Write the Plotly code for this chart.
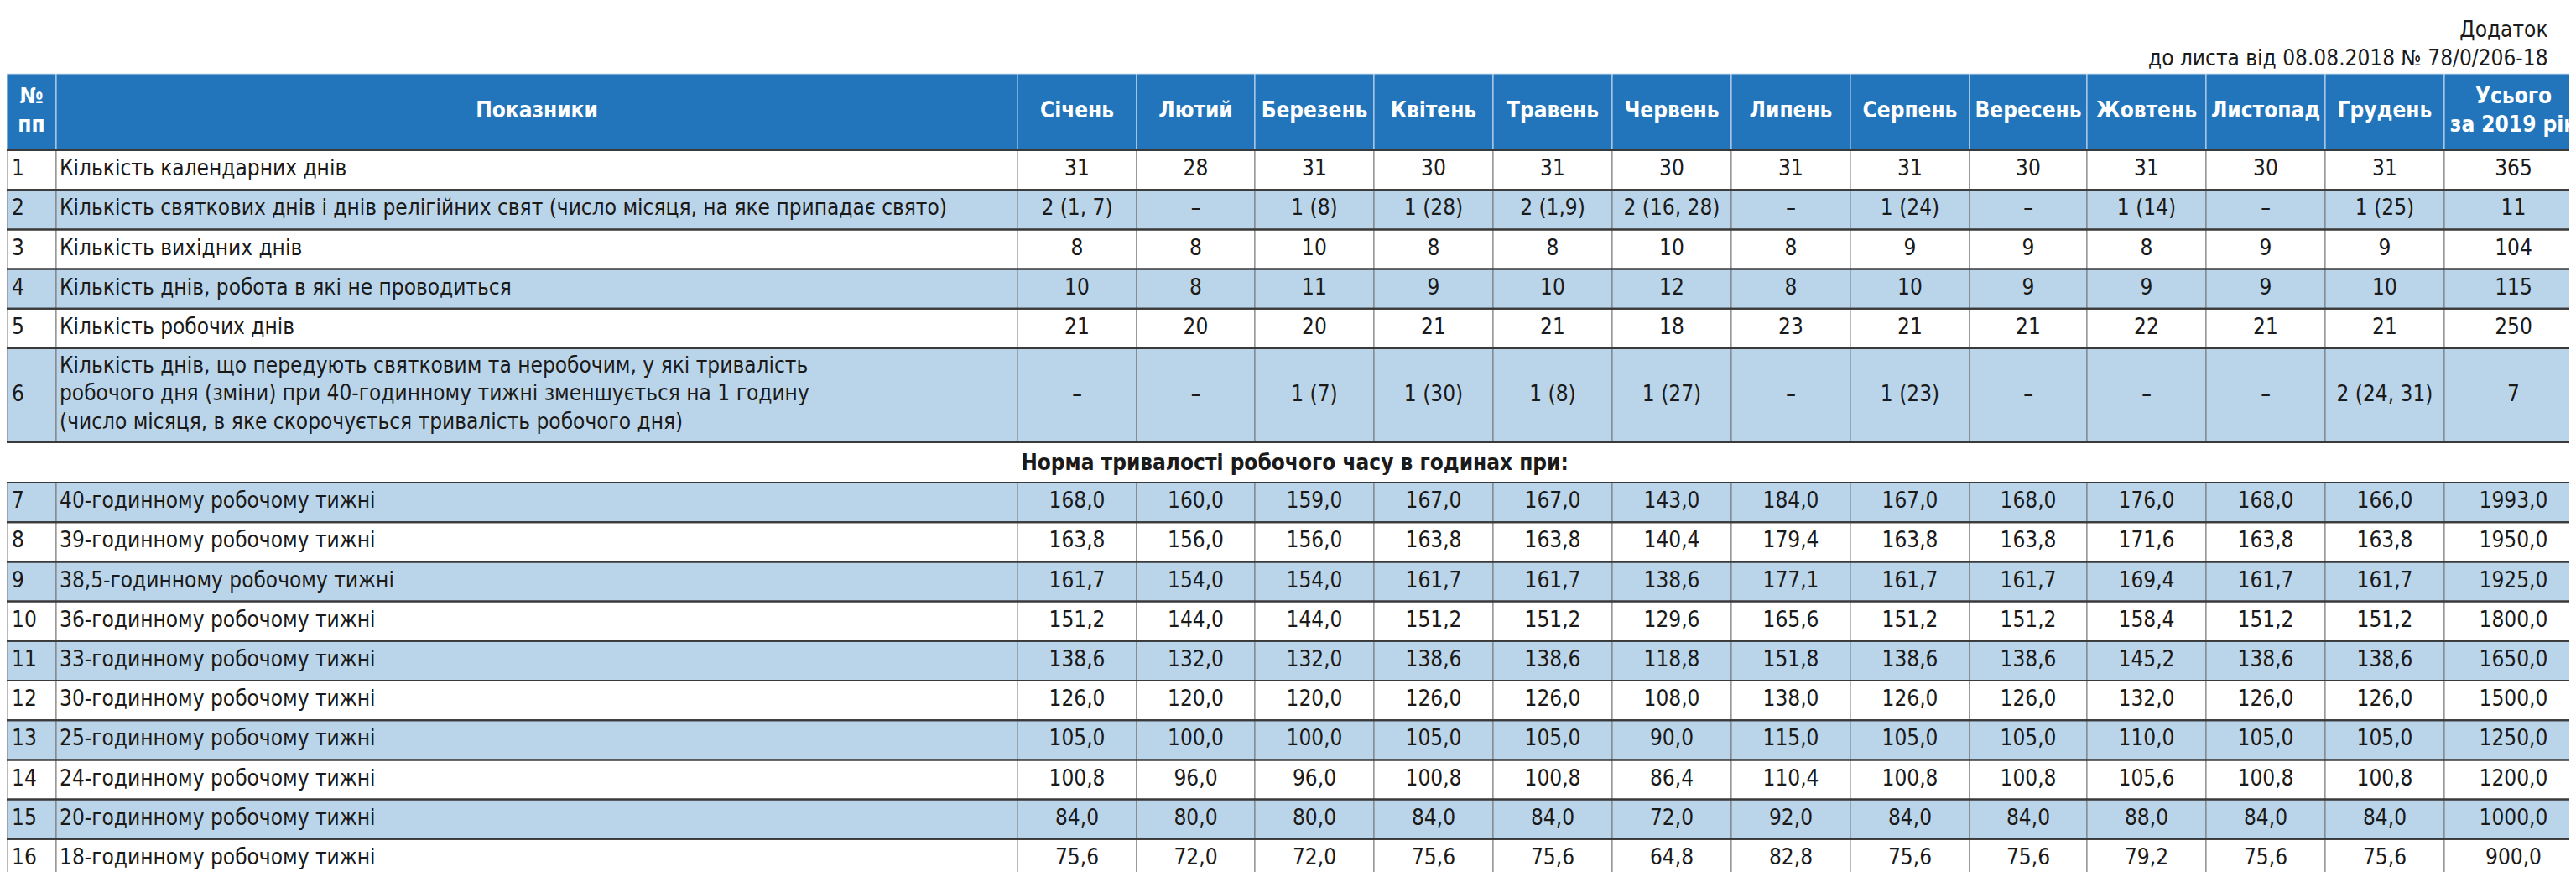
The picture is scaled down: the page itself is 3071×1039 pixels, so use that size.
import plotly.graph_objects as go

W, H = 3071, 1039
FONT = "Liberation Sans Narrow, DejaVu Sans Condensed, sans-serif"

months = ["Січень", "Лютий", "Березень", "Квітень", "Травень", "Червень", "Липень",
          "Серпень", "Вересень", "Жовтень", "Листопад", "Грудень", "Усього<br>за 2019 рік"]

top_labels = [
    "Кількість календарних днів",
    "Кількість святкових днів і днів релігійних свят (число місяця, на яке припадає свято)",
    "Кількість вихідних днів",
    "Кількість днів, робота в які не проводиться",
    "Кількість робочих днів",
    "Кількість днів, що передують святковим та неробочим, у які тривалість<br>"
    "робочого дня (зміни) при 40-годинному тижні зменшується на 1 годину<br>"
    "(число місяця, в яке скорочується тривалість робочого дня)",
]
top_values = [
    ["31", "28", "31", "30", "31", "30", "31", "31", "30", "31", "30", "31", "365"],
    ["2 (1, 7)", "–", "1 (8)", "1 (28)", "2 (1,9)", "2 (16, 28)", "–", "1 (24)", "–", "1 (14)", "–", "1 (25)", "11"],
    ["8", "8", "10", "8", "8", "10", "8", "9", "9", "8", "9", "9", "104"],
    ["10", "8", "11", "9", "10", "12", "8", "10", "9", "9", "9", "10", "115"],
    ["21", "20", "20", "21", "21", "18", "23", "21", "21", "22", "21", "21", "250"],
    ["–", "–", "1 (7)", "1 (30)", "1 (8)", "1 (27)", "–", "1 (23)", "–", "–", "–", "2 (24, 31)", "7"],
]

section_title = "Норма тривалості робочого часу в годинах при:"

hour_labels = ["40-годинному робочому тижні", "39-годинному робочому тижні",
               "38,5-годинному робочому тижні", "36-годинному робочому тижні",
               "33-годинному робочому тижні", "30-годинному робочому тижні",
               "25-годинному робочому тижні", "24-годинному робочому тижні",
               "20-годинному робочому тижні", "18-годинному робочому тижні"]
hour_values = [
    ["168,0", "160,0", "159,0", "167,0", "167,0", "143,0", "184,0", "167,0", "168,0", "176,0", "168,0", "166,0", "1993,0"],
    ["163,8", "156,0", "156,0", "163,8", "163,8", "140,4", "179,4", "163,8", "163,8", "171,6", "163,8", "163,8", "1950,0"],
    ["161,7", "154,0", "154,0", "161,7", "161,7", "138,6", "177,1", "161,7", "161,7", "169,4", "161,7", "161,7", "1925,0"],
    ["151,2", "144,0", "144,0", "151,2", "151,2", "129,6", "165,6", "151,2", "151,2", "158,4", "151,2", "151,2", "1800,0"],
    ["138,6", "132,0", "132,0", "138,6", "138,6", "118,8", "151,8", "138,6", "138,6", "145,2", "138,6", "138,6", "1650,0"],
    ["126,0", "120,0", "120,0", "126,0", "126,0", "108,0", "138,0", "126,0", "126,0", "132,0", "126,0", "126,0", "1500,0"],
    ["105,0", "100,0", "100,0", "105,0", "105,0", "90,0", "115,0", "105,0", "105,0", "110,0", "105,0", "105,0", "1250,0"],
    ["100,8", "96,0", "96,0", "100,8", "100,8", "86,4", "110,4", "100,8", "100,8", "105,6", "100,8", "100,8", "1200,0"],
    ["84,0", "80,0", "80,0", "84,0", "84,0", "72,0", "92,0", "84,0", "84,0", "88,0", "84,0", "84,0", "1000,0"],
    ["75,6", "72,0", "72,0", "75,6", "75,6", "64,8", "82,8", "75,6", "75,6", "79,2", "75,6", "75,6", "900,0"],
]

# layout geometry (pixels)
col_edges = [0, 59, 1205, 1347, 1488, 1630, 1772, 1914, 2056, 2198, 2340, 2480, 2622, 2764, 2906, W]
HEAD_TOP, HEAD_BOT = 80, 171
ROW_H = 47.2
ROW6_H = 112
SECTION_H = 48

BLUE = "#2275bb"
LIGHT = "#bad5ea"
LINE = "#3a3a3a"

# build row list: (num, label, values, top, height, fill)
rows = []
y = HEAD_BOT
for i, (lab, vals) in enumerate(zip(top_labels, top_values)):
    h = ROW6_H if i == 5 else ROW_H
    rows.append((str(i + 1), lab, vals, y, h, LIGHT if i % 2 == 1 else "white"))
    y += h
section_top = y
y += SECTION_H
for i, (lab, vals) in enumerate(zip(hour_labels, hour_values)):
    rows.append((str(i + 7), lab, vals, y, ROW_H, LIGHT if i % 2 == 0 else "white"))
    y += ROW_H

shapes = []
# header
for c in range(len(col_edges) - 1):
    shapes.append(dict(type="rect", x0=col_edges[c], x1=col_edges[c + 1], y0=HEAD_TOP, y1=HEAD_BOT,
                       fillcolor=BLUE, line=dict(color="#cfe0f0", width=1), layer="below"))
for num, lab, vals, top, h, fill in rows:
    for c in range(len(col_edges) - 1):
        shapes.append(dict(type="rect", x0=col_edges[c], x1=col_edges[c + 1], y0=top, y1=top + h,
                           fillcolor=fill, line=dict(color="#777777", width=1), layer="below"))
    shapes.append(dict(type="line", x0=0, x1=W, y0=top, y1=top, line=dict(color=LINE, width=2)))
    shapes.append(dict(type="line", x0=0, x1=W, y0=top + h, y1=top + h, line=dict(color=LINE, width=2)))

fig = go.Figure()

# header texts
hx = [(col_edges[i] + col_edges[i + 1]) / 2 for i in range(len(col_edges) - 1)]
htext = ["№<br>пп", "Показники"] + months
fig.add_trace(go.Scatter(x=hx, y=[(HEAD_TOP + HEAD_BOT) / 2] * len(hx), mode="text", text=htext,
                         textfont=dict(family=FONT, size=26, color="white", weight="bold"),
                         textposition="middle center", hoverinfo="skip"))

# body texts
for num, lab, vals, top, h, fill in rows:
    cy = top + h / 2
    fig.add_trace(go.Scatter(x=[6], y=[cy], mode="text", text=[num], textposition="middle right",
                             textfont=dict(family=FONT, size=26, color="#1a1a1a"), hoverinfo="skip"))
    fig.add_trace(go.Scatter(x=[col_edges[1] + 4], y=[cy], mode="text", text=[lab], textposition="middle right",
                             textfont=dict(family=FONT, size=26, color="#1a1a1a"), hoverinfo="skip"))
    fig.add_trace(go.Scatter(x=hx[2:], y=[cy] * len(vals), mode="text", text=vals, textposition="middle center",
                             textfont=dict(family=FONT, size=26, color="#1a1a1a"), hoverinfo="skip"))

fig.add_trace(go.Scatter(x=[W / 2], y=[section_top + SECTION_H / 2 + 2], mode="text", text=[section_title],
                         textposition="middle center",
                         textfont=dict(family=FONT, size=26, color="#1a1a1a", weight="bold"), hoverinfo="skip"))

# caption top right
fig.add_annotation(x=3032, y=10, xanchor="right", yanchor="top", align="right", showarrow=False,
                   text="Додаток<br>до листа від 08.08.2018 № 78/0/206-18",
                   font=dict(family=FONT, size=26, color="#1a1a1a"))

fig.update_layout(width=W, height=H, margin=dict(l=0, r=0, t=0, b=0), showlegend=False,
                  plot_bgcolor="white", paper_bgcolor="white", shapes=shapes,
                  xaxis=dict(range=[0, W], visible=False, fixedrange=True),
                  yaxis=dict(range=[H, 0], visible=False, fixedrange=True))
fig.write_html("out.html")
